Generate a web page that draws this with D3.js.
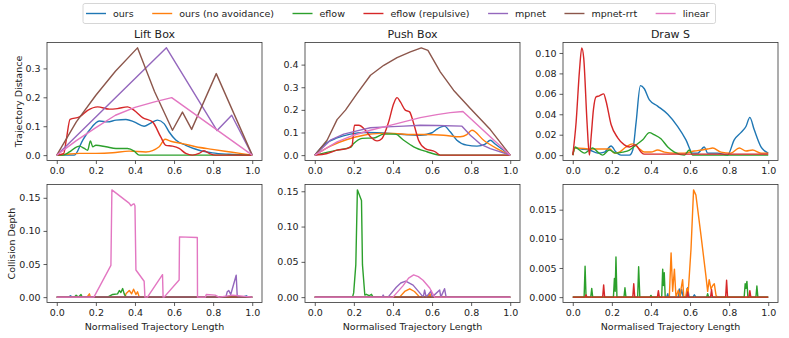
<!DOCTYPE html>
<html>
<head>
<meta charset="utf-8">
<script src="https://cdn.jsdelivr.net/npm/d3@7"></script>
<style>
  body { margin: 0; background: #fff; }
  text { font-family: "DejaVu Sans", sans-serif; fill: #222; }
</style>
</head>
<body>
<svg id="chart" width="789" height="338"></svg>
<script>
// series order: ours, ours (no avoidance), eflow, eflow (repulsive), mpnet, mpnet-rrt, linear
var methods = ['ours', 'ours (no avoidance)', 'eflow', 'eflow (repulsive)', 'mpnet', 'mpnet-rrt', 'linear'];
var colors = ['#1f77b4', '#ff7f0e', '#2ca02c', '#d62728', '#9467bd', '#8c564b', '#e377c2'];
var titles = ['Lift Box', 'Push Box', 'Draw S'];
var xTicks = [0, 0.2, 0.4, 0.6, 0.8, 1.0];
var distTicks = [[0, 0.1, 0.2, 0.3], [0, 0.1, 0.2, 0.3, 0.4], [0, 0.02, 0.04, 0.06, 0.08, 0.10]];
var depthTicks = [[0, 0.05, 0.10, 0.15], [0, 0.05, 0.10, 0.15], [0, 0.005, 0.010, 0.015]];
var distFormat = ['.1f', '.1f', '.2f'];
var depthFormat = ['.2f', '.2f', '.3f'];

var flat = [[0, 0], [1, 0]];

// trajectory distance, [x, y] per series
var liftDistance = [
  [[0,0],[0.09,0],[0.133,0.052],[0.167,0.086],[0.218,0.118],[0.26,0.115],[0.303,0.121],[0.354,0.123],[0.396,0.115],[0.447,0.1],[0.481,0.111],[0.515,0.121],[0.549,0.109],[0.575,0.08],[0.609,0.052],[0.66,0.034],[0.728,0.017],[0.796,0.008],[0.88,0.003],[1,0]],
  [[0,0],[0.05,0.003],[0.116,0.006],[0.2,0.006],[0.286,0.008],[0.37,0.014],[0.456,0.011],[0.524,0.029],[0.554,0.055],[0.583,0.048],[0.643,0.04],[0.711,0.029],[0.796,0.02],[0.898,0.01],[1,0]],
  [[0,0],[0.03,0],[0.065,0.011],[0.1,0.028],[0.116,0.031],[0.141,0.023],[0.158,0.017],[0.172,0.049],[0.184,0.029],[0.2,0.034],[0.252,0.029],[0.303,0.023],[0.362,0.023],[0.396,0.014],[0.422,0],[1,0]],
  [[0,0],[0.035,0.005],[0.048,0.05],[0.068,0.124],[0.116,0.132],[0.158,0.155],[0.209,0.167],[0.269,0.159],[0.31,0.161],[0.362,0.167],[0.396,0.155],[0.439,0.13],[0.49,0.115],[0.532,0.063],[0.558,0.034],[0.592,0.031],[0.626,0.023],[0.66,0.006],[0.694,0],[0.728,0.006],[0.753,0.015],[0.78,0.006],[0.813,0],[1,0]],
  [[0,0],[0.561,0.371],[0.82,0.085],[0.895,0.138],[1,0]],
  [[0,0],[0.1,0.115],[0.2,0.207],[0.3,0.29],[0.413,0.371],[0.5,0.22],[0.592,0.086],[0.643,0.149],[0.69,0.089],[0.816,0.282],[1,0]],
  [[0,0],[0.1,0.05],[0.2,0.095],[0.3,0.138],[0.4,0.165],[0.5,0.184],[0.588,0.199],[1,0]]
];
var pushDistance = [
  [[0,0],[0.055,0.051],[0.114,0.076],[0.182,0.093],[0.25,0.1],[0.319,0.099],[0.387,0.096],[0.455,0.091],[0.54,0.088],[0.6,0.099],[0.625,0.115],[0.663,0.128],[0.693,0.103],[0.727,0.066],[0.778,0.044],[0.83,0.04],[0.872,0.049],[0.898,0.066],[0.923,0.049],[1,0]],
  [[0,0],[0.08,0.04],[0.165,0.069],[0.25,0.088],[0.336,0.096],[0.404,0.096],[0.489,0.091],[0.574,0.091],[0.659,0.088],[0.744,0.081],[0.778,0.091],[0.804,0.11],[0.864,0.066],[0.932,0.029],[1,0]],
  [[0,0],[0.114,0.022],[0.182,0.034],[0.199,0.051],[0.242,0.074],[0.302,0.076],[0.353,0.093],[0.412,0.093],[0.455,0.066],[0.506,0.037],[0.574,0.015],[0.642,0],[1,0]],
  [[0,0],[0.063,0.007],[0.114,0.022],[0.165,0.029],[0.191,0.044],[0.203,0.132],[0.225,0.132],[0.259,0.11],[0.285,0.081],[0.319,0.063],[0.344,0.074],[0.378,0.147],[0.404,0.228],[0.421,0.254],[0.438,0.235],[0.463,0.199],[0.485,0.191],[0.506,0.14],[0.531,0.066],[0.565,0.029],[0.616,0.015],[0.642,0],[1,0]],
  [[0,0],[0.08,0.066],[0.148,0.093],[0.216,0.107],[0.284,0.121],[0.37,0.125],[0.455,0.128],[0.54,0.132],[0.625,0.131],[0.753,0.128],[0.796,0.088],[0.847,0.049],[0.898,0.029],[1,0]],
  [[0,0],[0.063,0.066],[0.114,0.157],[0.157,0.199],[0.216,0.272],[0.285,0.353],[0.353,0.397],[0.421,0.431],[0.489,0.456],[0.545,0.474],[0.579,0.463],[0.642,0.368],[0.71,0.287],[0.796,0.206],[0.898,0.113],[1,0]],
  [[0,0],[0.114,0.059],[0.199,0.088],[0.284,0.11],[0.37,0.128],[0.455,0.147],[0.54,0.166],[0.625,0.179],[0.693,0.188],[0.758,0.193],[1,0]]
];
var drawDistance = [
  [[0,0],[0.012,0.007],[0.043,0.006],[0.085,0.005],[0.128,0.002],[0.162,0.003],[0.196,0.009],[0.221,0.003],[0.247,0],[0.29,0],[0.307,0.005],[0.324,0.032],[0.346,0.068],[0.366,0.065],[0.392,0.054],[0.434,0.048],[0.486,0.04],[0.537,0.028],[0.579,0.015],[0.613,0.002],[0.639,0.002],[0.673,0.008],[0.69,0.002],[0.741,0.002],[0.792,0],[0.826,0.015],[0.86,0.022],[0.886,0.028],[0.906,0.037],[0.928,0.025],[0.963,0.008],[1,0.002]],
  [[0,0],[0.012,0.007],[0.1,0.006],[0.19,0.006],[0.213,0.002],[0.238,0.003],[0.273,0.008],[0.307,0.011],[0.336,0.007],[0.366,0.003],[0.4,0.003],[0.434,0.005],[0.469,0.003],[0.52,0.002],[0.571,0.002],[0.622,0.004],[0.656,0.005],[0.69,0.006],[0.716,0.007],[0.758,0.003],[0.809,0.002],[0.852,0.007],[0.886,0.004],[0.92,0.005],[0.963,0.002],[1,0.002]],
  [[0,0],[0.012,0.008],[0.034,0.005],[0.06,0.002],[0.085,0.005],[0.102,0.007],[0.128,0.003],[0.153,0],[0.187,0.005],[0.221,0.002],[0.256,0.003],[0.29,0.005],[0.324,0.01],[0.358,0.015],[0.392,0.022],[0.417,0.02],[0.451,0.016],[0.486,0.008],[0.52,0.003],[0.571,0],[0.596,0.005],[0.613,0],[1,0]],
  [[0,0],[0.017,0.032],[0.034,0.082],[0.046,0.105],[0.056,0.095],[0.073,0.032],[0.085,0],[0.094,0.018],[0.106,0.045],[0.119,0.057],[0.136,0.058],[0.158,0.06],[0.17,0.053],[0.196,0.03],[0.23,0.017],[0.264,0.01],[0.29,0.008],[0.32,0.01],[0.349,0.003],[0.366,0.001],[1,0.001]],
  null, null, null
];

// collision depth, [x, y] per series
var liftDepth = [
  [[0,0],[0.06,0],[0.07,0.002],[0.08,0],[0.95,0],[0.97,0.002],[0.98,0],[1,0]],
  [[0,0],[0.155,0],[0.167,0.005],[0.172,0],[0.35,0],[0.354,0.005],[0.371,0.01],[0.383,0.005],[0.393,0.012],[0.405,0.004],[0.413,0.008],[0.422,0],[1,0]],
  [[0,0],[0.09,0],[0.099,0.003],[0.11,0],[0.124,0.004],[0.13,0],[0.26,0],[0.286,0.004],[0.311,0.005],[0.32,0.01],[0.328,0.007],[0.337,0.013],[0.345,0.005],[0.354,0],[1,0]],
  flat,
  [[0,0],[0.865,0],[0.872,0.008],[0.88,0.01],[0.89,0.004],[0.918,0.033],[0.923,0.003],[0.93,0],[1,0]],
  flat,
  [[0,0],[0.19,0],[0.277,0.048],[0.282,0.162],[0.37,0.142],[0.38,0.138],[0.388,0.14],[0.395,0.141],[0.4,0.138],[0.405,0.041],[0.447,0.024],[0.451,0],[0.464,0],[0.541,0.034],[0.544,0],[0.549,0],[0.626,0.026],[0.628,0.091],[0.719,0.09],[0.72,0],[0.76,0],[0.765,0.004],[0.81,0.003],[0.83,0],[0.9,0.003],[1,0]]
];
var pushDepth = [
  flat,
  [[0,0],[0.434,0],[0.46,0.008],[0.486,0.0118],[0.51,0.008],[0.537,0],[0.58,0],[0.588,0.006],[0.595,0],[1,0]],
  [[0,0],[0.193,0],[0.199,0.006],[0.21,0.046],[0.218,0.152],[0.239,0.137],[0.244,0.046],[0.256,0.003],[0.264,0.004],[0.278,0.002],[0.29,0.004],[0.298,0],[1,0]],
  flat,
  [[0,0],[0.345,0],[0.35,0.003],[0.355,0],[0.375,0],[0.417,0.014],[0.44,0.02],[0.465,0.0226],[0.503,0.017],[0.537,0.006],[0.555,0],[0.562,0.01],[0.57,0],[0.596,0.009],[0.6,0],[0.639,0.01],[0.645,0],[0.664,0.012],[0.672,0],[1,0]],
  flat,
  [[0,0],[0.4,0],[0.451,0.016],[0.48,0.027],[0.506,0.0315],[0.53,0.029],[0.554,0.024],[0.588,0.013],[0.613,0],[1,0]]
];
var drawDepth = [
  [[0,0],[0.48,0],[0.486,0.0006],[0.49,0],[0.54,0],[0.545,0.0014],[0.55,0.0002],[0.557,0.0013],[0.565,0],[0.58,0],[0.588,0.0016],[0.595,0],[0.615,0],[0.622,0.0004],[0.63,0],[1,0]],
  [[0,0],[0.494,0],[0.503,0.0076],[0.511,0.001],[0.52,0.0048],[0.528,0],[0.54,0.0012],[0.548,0],[0.554,0.0014],[0.562,0.003],[0.568,0],[0.578,0],[0.584,0.0015],[0.59,0.0005],[0.605,0.0083],[0.618,0.0184],[0.63,0.0175],[0.656,0.0106],[0.681,0.0037],[0.69,0.001],[0.698,0.003],[0.707,0.0014],[0.716,0.002],[0.724,0.0023],[0.733,0.0003],[0.74,0],[1,0]],
  [[0,0],[0.058,0],[0.063,0.0053],[0.068,0],[0.092,0],[0.097,0.0015],[0.102,0],[0.208,0],[0.213,0.0032],[0.217,0.001],[0.221,0.0069],[0.226,0],[0.262,0],[0.267,0.0016],[0.272,0],[0.332,0],[0.337,0.0052],[0.343,0],[0.395,0],[0.4,0.0003],[0.405,0],[0.455,0],[0.46,0.0048],[0.464,0.002],[0.468,0.0042],[0.473,0],[0.685,0],[0.69,0.0006],[0.695,0],[0.877,0],[0.882,0.0023],[0.886,0.0015],[0.891,0.0027],[0.896,0],[0.937,0],[0.942,0.0019],[0.947,0],[1,0]],
  [[0,0],[0.064,0],[0.068,0.0004],[0.072,0],[0.153,0],[0.158,0.0021],[0.163,0],[0.307,0],[0.312,0.0023],[0.317,0],[0.433,0],[0.438,0.0011],[0.443,0],[0.584,0],[0.588,0.0009],[0.592,0],[0.705,0],[0.71,0.0013],[0.715,0],[0.782,0],[0.787,0.0029],[0.792,0],[0.901,0],[0.906,0.0011],[0.911,0],[1,0]],
  null, null, null
];

var distance = [liftDistance, pushDistance, drawDistance];
var depth = [liftDepth, pushDepth, drawDepth];

var svg = d3.select('#chart');
var colX = [47, 305, 563];
var colW = 215;
var rowY = [42.5, 184.5];
var rowH = 118;

function yDomain(panel) {
    var all = [];
    panel.forEach(function (s) { if (s) s.forEach(function (p) { all.push(p[1]); }); });
    var lo = d3.min(all), hi = d3.max(all), pad = (hi - lo) * 0.05;
    return [lo - pad, hi + pad];
}

function drawPanel(col, row, panel, ticks, fmt, smooth) {
    var x0 = colX[col], y0 = rowY[row];
    var g = svg.append('g').attr('transform', 'translate(' + x0 + ',' + y0 + ')');

    var x = d3.scaleLinear().domain([-0.05, 1.05]).range([0, colW]);
    var y = d3.scaleLinear().domain(yDomain(panel)).range([rowH, 0]);

    var xAxis = g.append('g').attr('transform', 'translate(0,' + rowH + ')')
        .call(d3.axisBottom(x).tickValues(xTicks).tickFormat(d3.format('.1f')).tickSize(3.5).tickPadding(3).tickSizeOuter(0));
    var yAxis = g.append('g')
        .call(d3.axisLeft(y).tickValues(ticks).tickFormat(d3.format(fmt)).tickSize(3.5).tickPadding(3).tickSizeOuter(0));
    [xAxis, yAxis].forEach(function (a) {
        a.select('.domain').remove();
        a.selectAll('line').attr('stroke', '#333').attr('stroke-width', 0.8);
        a.selectAll('text').style('font-family', '"DejaVu Sans", sans-serif').style('font-size', '9.5px').attr('fill', '#222');
    });

    panel.forEach(function (s, i) {
        if (!s) return;
        var line = d3.line()
            .x(function (d) { return x(d[0]); })
            .y(function (d) { return y(d[1]); })
            .curve(smooth && i < 4 ? d3.curveMonotoneX : d3.curveLinear);
        g.append('path')
            .datum(s)
            .attr('d', line)
            .attr('fill', 'none')
            .attr('stroke', colors[i])
            .attr('stroke-width', 1.4)
            .attr('stroke-linejoin', 'round');
    });

    g.append('rect')
        .attr('width', colW).attr('height', rowH)
        .attr('fill', 'none').attr('stroke', '#333').attr('stroke-width', 0.8);
    return g;
}

for (var c = 0; c < 3; c++) {
    var topPanel = drawPanel(c, 0, distance[c], distTicks[c], distFormat[c], true);
    topPanel.append('text').attr('x', colW / 2).attr('y', -5).attr('text-anchor', 'middle')
        .style('font-size', '11px').text(titles[c]);
    var botPanel = drawPanel(c, 1, depth[c], depthTicks[c], depthFormat[c], false);
    botPanel.append('text').attr('x', colW / 2).attr('y', rowH + 27.5).attr('text-anchor', 'middle')
        .style('font-size', '9.5px').text('Normalised Trajectory Length');
}

svg.append('text').attr('transform', 'translate(21.5,' + (rowY[0] + rowH / 2) + ') rotate(-90)')
    .attr('text-anchor', 'middle').style('font-size', '9.5px').text('Trajectory Distance');
svg.append('text').attr('transform', 'translate(15,' + (rowY[1] + rowH / 2) + ') rotate(-90)')
    .attr('text-anchor', 'middle').style('font-size', '9.5px').text('Collision Depth');

// legend
var legend = svg.append('g');
var box = legend.append('rect').attr('x', 83).attr('y', 3.5).attr('height', 20).attr('rx', 2)
    .attr('fill', '#fff').attr('stroke', '#ccc').attr('stroke-width', 0.8);
var lx = 86;
methods.forEach(function (m, i) {
    legend.append('line').attr('x1', lx).attr('x2', lx + 20).attr('y1', 13.5).attr('y2', 13.5)
        .attr('stroke', colors[i]).attr('stroke-width', 1.4);
    var t = legend.append('text').attr('x', lx + 27).attr('y', 17).style('font-size', '9.5px').text(m);
    lx += 27 + t.node().getComputedTextLength() + 18.5;
});
box.attr('width', lx - 18.5 + 6 - 83);
</script>
</body>
</html>
